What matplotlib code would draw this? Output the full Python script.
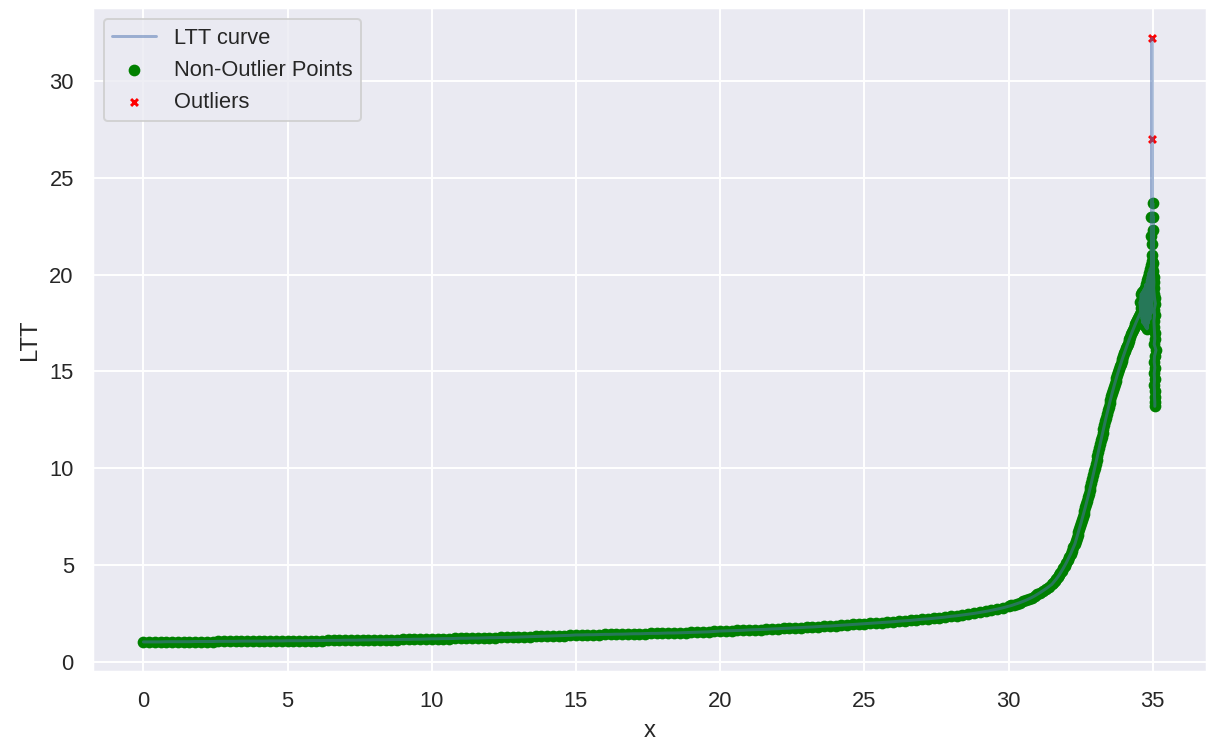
import numpy as np
import matplotlib.pyplot as plt
import seaborn as sns

sns.set_theme()
plt.rcParams['font.family'] = ['Liberation Sans', 'DejaVu Sans']

# slow part of the curve, x = 0.0 .. 29.8 every 0.2
x_slow = np.linspace(0, 29.8, 150)
y_slow = [
    1.04, 1.04, 1.04, 1.04, 1.05,  1.05, 1.05, 1.05, 1.05, 1.06,
    1.06, 1.06, 1.06, 1.07, 1.07,  1.07, 1.07, 1.08, 1.08, 1.08,
    1.08, 1.08, 1.09, 1.09, 1.09,  1.10, 1.10, 1.10, 1.10, 1.11,
    1.11, 1.11, 1.12, 1.12, 1.12,  1.13, 1.13, 1.13, 1.14, 1.14,
    1.15, 1.15, 1.15, 1.16, 1.16,  1.17, 1.17, 1.18, 1.18, 1.19,
    1.20, 1.20, 1.21, 1.21, 1.22,  1.23, 1.23, 1.24, 1.24, 1.25,
    1.26, 1.26, 1.27, 1.27, 1.28,  1.29, 1.30, 1.31, 1.32, 1.33,
    1.34, 1.35, 1.36, 1.37, 1.38,  1.40, 1.40, 1.41, 1.41, 1.42,
    1.43, 1.43, 1.44, 1.44, 1.45,  1.46, 1.46, 1.47, 1.48, 1.48,
    1.49, 1.50, 1.50, 1.51, 1.52,  1.53, 1.54, 1.55, 1.56, 1.58,
    1.60, 1.61, 1.62, 1.63, 1.64,  1.66, 1.67, 1.68, 1.69, 1.71,
    1.72, 1.74, 1.75, 1.77, 1.78,  1.80, 1.81, 1.83, 1.85, 1.86,
    1.88, 1.90, 1.92, 1.94, 1.96,  1.98, 2.00, 2.02, 2.04, 2.06,
    2.08, 2.11, 2.13, 2.15, 2.18,  2.21, 2.23, 2.26, 2.29, 2.32,
    2.36, 2.39, 2.43, 2.47, 2.51,  2.56, 2.61, 2.67, 2.73, 2.80,
]

# bend, x = 30.0 .. 31.4 every 0.1
x_bend = np.linspace(30.0, 31.4, 15)
y_bend = [2.88, 2.92, 2.97, 3.02, 3.07, 3.13, 3.19, 3.26, 3.33, 3.41,
          3.50, 3.59, 3.69, 3.79, 3.90]

# knee, x = 31.50 .. 32.25 every 0.05
x_knee = np.linspace(31.5, 32.25, 16)
y_knee = [4.01, 4.10, 4.19, 4.28, 4.38, 4.48, 4.60, 4.72, 4.85, 4.98,
          5.12, 5.27, 5.42, 5.58, 5.75, 5.92]

# steep rise, x = 32.30 .. 34.58 every 0.03
x_rise = np.linspace(32.30, 34.58, 77)
y_rise = [
    6.10, 6.25, 6.40, 6.55, 6.70, 6.85, 7.01, 7.17, 7.33, 7.49, 7.65,
    7.82, 7.99, 8.16, 8.33, 8.51, 8.69, 8.87, 9.06, 9.25, 9.44,
    9.64, 9.84, 10.04, 10.24, 10.44, 10.64, 10.84, 11.04, 11.24, 11.44,
    11.64, 11.84, 12.04, 12.24, 12.43, 12.62, 12.81, 13.00, 13.18, 13.36,
    13.54, 13.71, 13.88, 14.05, 14.21, 14.37, 14.53, 14.68, 14.83, 14.98,
    15.12, 15.26, 15.40, 15.54, 15.67, 15.80, 15.93, 16.06, 16.19, 16.32,
    16.44, 16.56, 16.68, 16.80, 16.92, 17.03, 17.14, 17.25, 17.36, 17.47,
    17.57, 17.67, 17.77, 17.87, 17.97, 18.06,
]

# noisy peak near x = 35
x_peak = [34.56, 34.58, 34.60, 34.61, 34.62, 34.63, 34.64, 34.65, 34.66, 34.67,
          34.68, 34.69, 34.70, 34.71, 34.72, 34.73, 34.74, 34.75, 34.76, 34.77,
          34.78, 34.79, 34.80, 34.81, 34.82, 34.83, 34.84, 34.85, 34.86, 34.87,
          34.88, 34.89, 34.90, 34.91, 34.92, 34.93, 34.94, 34.95, 34.95, 34.96,
          34.96, 34.97, 34.97, 34.96, 34.97, 34.98, 34.95, 34.97, 34.98, 34.95,
          34.99, 35.00, 35.00, 35.00, 35.01, 35.01]
y_peak = [18.6, 18.3, 19.0, 17.9, 18.5, 17.7, 19.1, 18.2, 17.5, 18.8,
          19.2, 17.8, 18.4, 17.4, 19.3, 18.0, 18.7, 17.3, 19.5, 18.3,
          17.6, 19.0, 17.2, 19.7, 18.5, 17.9, 19.9, 17.5, 18.8, 20.1,
          18.2, 19.4, 17.7, 20.3, 18.6, 19.6, 18.0, 20.5, 19.1, 20.7,
          18.4, 21.0, 19.7, 21.6, 32.2, 20.2, 22.0, 27.0, 18.8, 23.0,
          20.4, 23.7, 19.4, 22.3, 23.0, 20.6]

# fall after the peak
x_drop = [35.02, 35.03, 35.04, 35.03, 35.05, 35.06, 35.09, 35.05, 35.06, 35.04,
          35.05, 35.06, 35.07, 35.05, 35.11, 35.06, 35.05, 35.07, 35.05, 35.06,
          35.05, 35.06, 35.06, 35.07, 35.07]
y_drop = [20.2, 19.9, 19.6, 19.3, 19.0, 18.8, 18.5, 18.2, 17.9, 17.6,
          17.3, 17.0, 16.7, 16.4, 16.1, 15.8, 15.5, 15.2, 14.9, 14.6,
          14.3, 14.0, 13.7, 13.4, 13.2]

x = np.concatenate([x_slow, x_bend, x_knee, x_rise, x_peak, x_drop])
ltt = np.concatenate([y_slow, y_bend, y_knee, y_rise, y_peak, y_drop])
outlier = ltt > 25

fig = plt.figure(figsize=(1220 / 143, 741 / 143), dpi=143)
ax = fig.add_subplot(111)
fig.subplots_adjust(left=0.076, right=0.989, top=0.989, bottom=0.093)

ax.plot(x, ltt, label='LTT curve', alpha=0.5)
ax.scatter(x[~outlier], ltt[~outlier], color='green', s=24, label='Non-Outlier Points')
ax.scatter(x[outlier], ltt[outlier], color='red', marker='x', s=12, label='Outliers')

ax.set_xlabel('x')
ax.set_ylabel('LTT')
ax.legend(loc='upper left')

fig.savefig('out.png', dpi=143)
